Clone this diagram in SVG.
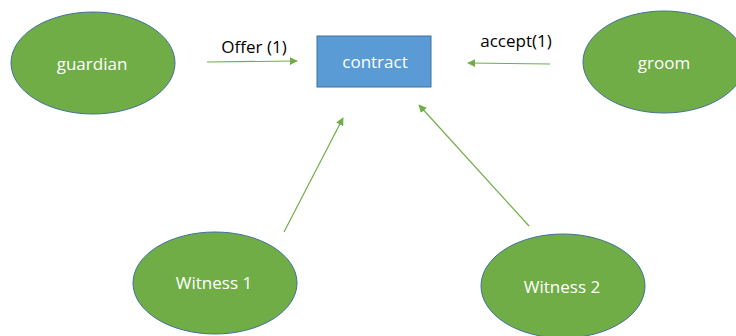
<svg xmlns="http://www.w3.org/2000/svg" width="736" height="336" viewBox="0 0 736 336">
<defs>
<style>
.node{fill:#70AD47;stroke:#41719C;stroke-width:1}
.lbl{font-family:"Open Sans","Liberation Sans",sans-serif;font-size:17px;fill:#fff;text-anchor:middle}
.elbl{font-family:"Open Sans","Liberation Sans",sans-serif;font-size:17px;fill:#000;text-anchor:middle}
.conn{stroke:#70AD47;stroke-width:1.2;fill:none;marker-end:url(#ah)}
</style>
<marker id="ah" viewBox="0 0 10 10" refX="9" refY="5" markerWidth="8" markerHeight="8" markerUnits="userSpaceOnUse" orient="auto">
<path d="M0,0 L10,5 L0,10 z" fill="#70AD47"/>
</marker>
</defs>
<rect width="736" height="336" fill="#fff"/>
<g id="connectors">
<line class="conn" x1="207" y1="62" x2="297" y2="61"/>
<line class="conn" x1="550" y1="64" x2="468" y2="63"/>
<line class="conn" x1="284" y1="232" x2="343" y2="118"/>
<line class="conn" x1="529" y1="226" x2="419" y2="105"/>
<text class="elbl" x="254" y="53">Offer (1)</text>
<text class="elbl" x="516" y="47">accept(1)</text>
</g>
<g id="guardian">
<ellipse class="node" cx="93" cy="63" rx="82" ry="51"/>
<text class="lbl" x="92" y="70">guardian</text>
</g>
<g id="contract">
<rect x="317" y="36" width="114" height="51" fill="#5B9BD5" stroke="#41719C"/>
<text class="lbl" x="375" y="68">contract</text>
</g>
<g id="groom">
<ellipse class="node" cx="664" cy="62" rx="81" ry="51"/>
<text class="lbl" x="664" y="69">groom</text>
</g>
<g id="witness1">
<ellipse class="node" cx="215" cy="283" rx="82" ry="51"/>
<text class="lbl" x="214" y="289">Witness 1</text>
</g>
<g id="witness2">
<ellipse class="node" cx="563" cy="286" rx="82" ry="52"/>
<text class="lbl" x="562" y="293">Witness 2</text>
</g>
</svg>
